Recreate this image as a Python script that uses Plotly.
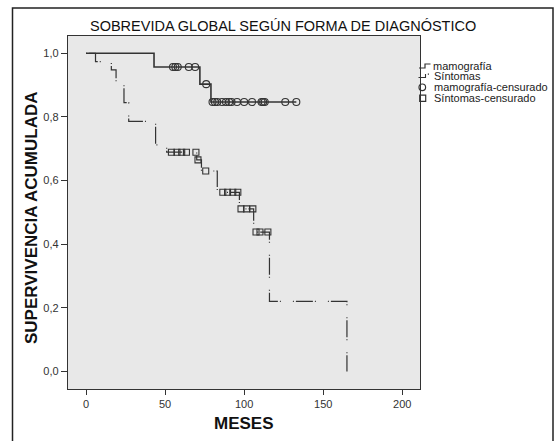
import plotly.graph_objects as go

# ---------------- data ----------------
mama_t = [0, 43, 72, 79, 133]
mama_s = [1.0, 0.957, 0.903, 0.847, 0.847]
mama_cens_t = [55, 56.5, 58, 65, 69, 76, 80, 81.5, 83, 86, 88.5, 90.5,
               92, 95.5, 100, 105, 111, 112, 113, 126, 133]

sint_t = [0, 6, 16, 19, 24, 27, 44, 51, 70, 73, 83, 97, 106, 116, 165]
sint_s = [1.0, 0.974, 0.948, 0.905, 0.845, 0.786, 0.712, 0.689, 0.665,
          0.630, 0.563, 0.511, 0.438, 0.220, 0.0]
sint_cens_t = [54, 57.5, 60.5, 63.5, 69.5, 70.8, 75.7, 86.5, 89.5, 92.8, 96,
               98, 101.5, 105.5, 107.5, 110, 115]

x_ticks = [0, 50, 100, 150, 200]
y_ticks = [0.0, 0.2, 0.4, 0.6, 0.8, 1.0]

title_text = "SOBREVIDA GLOBAL SEGÚN FORMA DE DIAGNÓSTICO"
x_title = "MESES"
y_title = "SUPERVIVENCIA ACUMULADA"
legend_labels = ["mamografía", "Síntomas", "mamografía-censurado", "Síntomas-censurado"]


def surv_at(t, times, surv):
    s = surv[0]
    for ti, si in zip(times, surv):
        if ti <= t:
            s = si
    return s


mama_cens_s = [surv_at(t, mama_t, mama_s) for t in mama_cens_t]
sint_cens_s = [surv_at(t, sint_t, sint_s) for t in sint_cens_t]

# ---------------- layout geometry (pixels) ----------------
W, H = 555, 441
L, R, T, B = 68, 420, 36, 389
PW, PH = R - L, B - T


def PX(x):
    return (x - L) / PW


def PY(y):
    return (B - y) / PH


FONT = "Liberation Sans, Arial, sans-serif"
LC = "#333333"
DASHDOT = "1px,2px,17px,2px,1px,12px"

fig = go.Figure()
fig.add_trace(go.Scatter(x=mama_t, y=mama_s, mode="lines", name=legend_labels[0],
                         line=dict(shape="hv", color=LC, width=1.6)))
fig.add_trace(go.Scatter(x=sint_t, y=sint_s, mode="lines", name=legend_labels[1],
                         line=dict(shape="hv", color=LC, width=1.2, dash=DASHDOT)))
fig.add_trace(go.Scatter(x=mama_cens_t, y=mama_cens_s, mode="markers", name=legend_labels[2],
                         marker=dict(symbol="circle-open", size=7, color=LC,
                                     line=dict(width=1.1))))
fig.add_trace(go.Scatter(x=sint_cens_t, y=sint_cens_s, mode="markers", name=legend_labels[3],
                         marker=dict(symbol="square-open", size=6, color=LC,
                                     line=dict(width=1.1))))

shapes = []
# outer frame
shapes.append(dict(type="rect", xref="paper", yref="paper",
                   x0=PX(12.5), x1=PX(553), y0=PY(446), y1=PY(8),
                   line=dict(color="#222222", width=1.5), layer="below"))
# manual legend symbols
shapes.append(dict(type="path", xref="paper", yref="paper",
                   path=f"M {PX(419)},{PY(68)} L {PX(425)},{PY(68)} L {PX(425)},{PY(64)} L {PX(430.5)},{PY(64)}",
                   line=dict(color=LC, width=1.2)))
shapes.append(dict(type="path", xref="paper", yref="paper",
                   path=f"M {PX(418.5)},{PY(77.5)} L {PX(425.5)},{PY(77.5)} L {PX(425.5)},{PY(74)}",
                   line=dict(color=LC, width=1.1)))
shapes.append(dict(type="rect", xref="paper", yref="paper",
                   x0=PX(427.8), x1=PX(429), y0=PY(74.8), y1=PY(73.6),
                   line=dict(width=0), fillcolor=LC))
shapes.append(dict(type="circle", xref="paper", yref="paper",
                   x0=PX(419), x1=PX(425.6), y0=PY(90.6), y1=PY(84),
                   line=dict(color=LC, width=1.2)))
shapes.append(dict(type="rect", xref="paper", yref="paper",
                   x0=PX(419.7), x1=PX(425.7), y0=PY(101.3), y1=PY(95.2),
                   line=dict(color=LC, width=1.2)))

annotations = []
annotations.append(dict(text=title_text, xref="paper", yref="paper", x=PX(283), y=PY(26),
                        xanchor="center", yanchor="middle", showarrow=False,
                        font=dict(family=FONT, size=14.5, color="#111111")))
annotations.append(dict(text=f"<b>{x_title}</b>", xref="paper", yref="paper", x=PX(244), y=PY(423),
                        xanchor="center", yanchor="middle", showarrow=False,
                        font=dict(family=FONT, size=17, color="#111111")))
annotations.append(dict(text=f"<b>{y_title}</b>", xref="paper", yref="paper", x=PX(31.5), y=PY(217.5),
                        xanchor="center", yanchor="middle", showarrow=False, textangle=-90,
                        font=dict(family=FONT, size=17, color="#111111")))
leg_pos = [(431.5, 66), (433.3, 75.8), (433.3, 87.3), (433.3, 98.3)]
for lab, (lx, ly) in zip(legend_labels, leg_pos):
    annotations.append(dict(text=lab, xref="paper", yref="paper", x=PX(lx), y=PY(ly),
                            xanchor="left", yanchor="middle", showarrow=False, borderpad=0,
                            font=dict(family=FONT, size=11, color="#222222")))

fig.update_layout(
    width=W, height=H,
    margin=dict(l=L, r=W - R, t=T, b=H - B, pad=0),
    paper_bgcolor="white", plot_bgcolor="#E8E8E8",
    showlegend=False,
    separators=",.",
    font=dict(family=FONT, size=11, color="#333333"),
    shapes=shapes, annotations=annotations,
)
fig.update_xaxes(range=[-11.4, 211.2], tickvals=x_ticks, ticks="outside", ticklen=5,
                 tickcolor="#333333", showgrid=False, zeroline=False,
                 showline=True, linecolor="#333333", linewidth=1.3, mirror=True,
                 tickfont=dict(family=FONT, size=11, color="#333333"))
fig.update_yaxes(range=[-0.0553, 1.0543], tickvals=y_ticks, tickformat=".1f", ticks="outside",
                 ticklen=6, tickcolor="#333333", showgrid=False, zeroline=False,
                 showline=True, linecolor="#333333", linewidth=1.3, mirror=True,
                 tickfont=dict(family=FONT, size=11, color="#333333"))

fig.write_html("out.html", config={"displayModeBar": False},
               post_script="document.body.style.margin='0';")
